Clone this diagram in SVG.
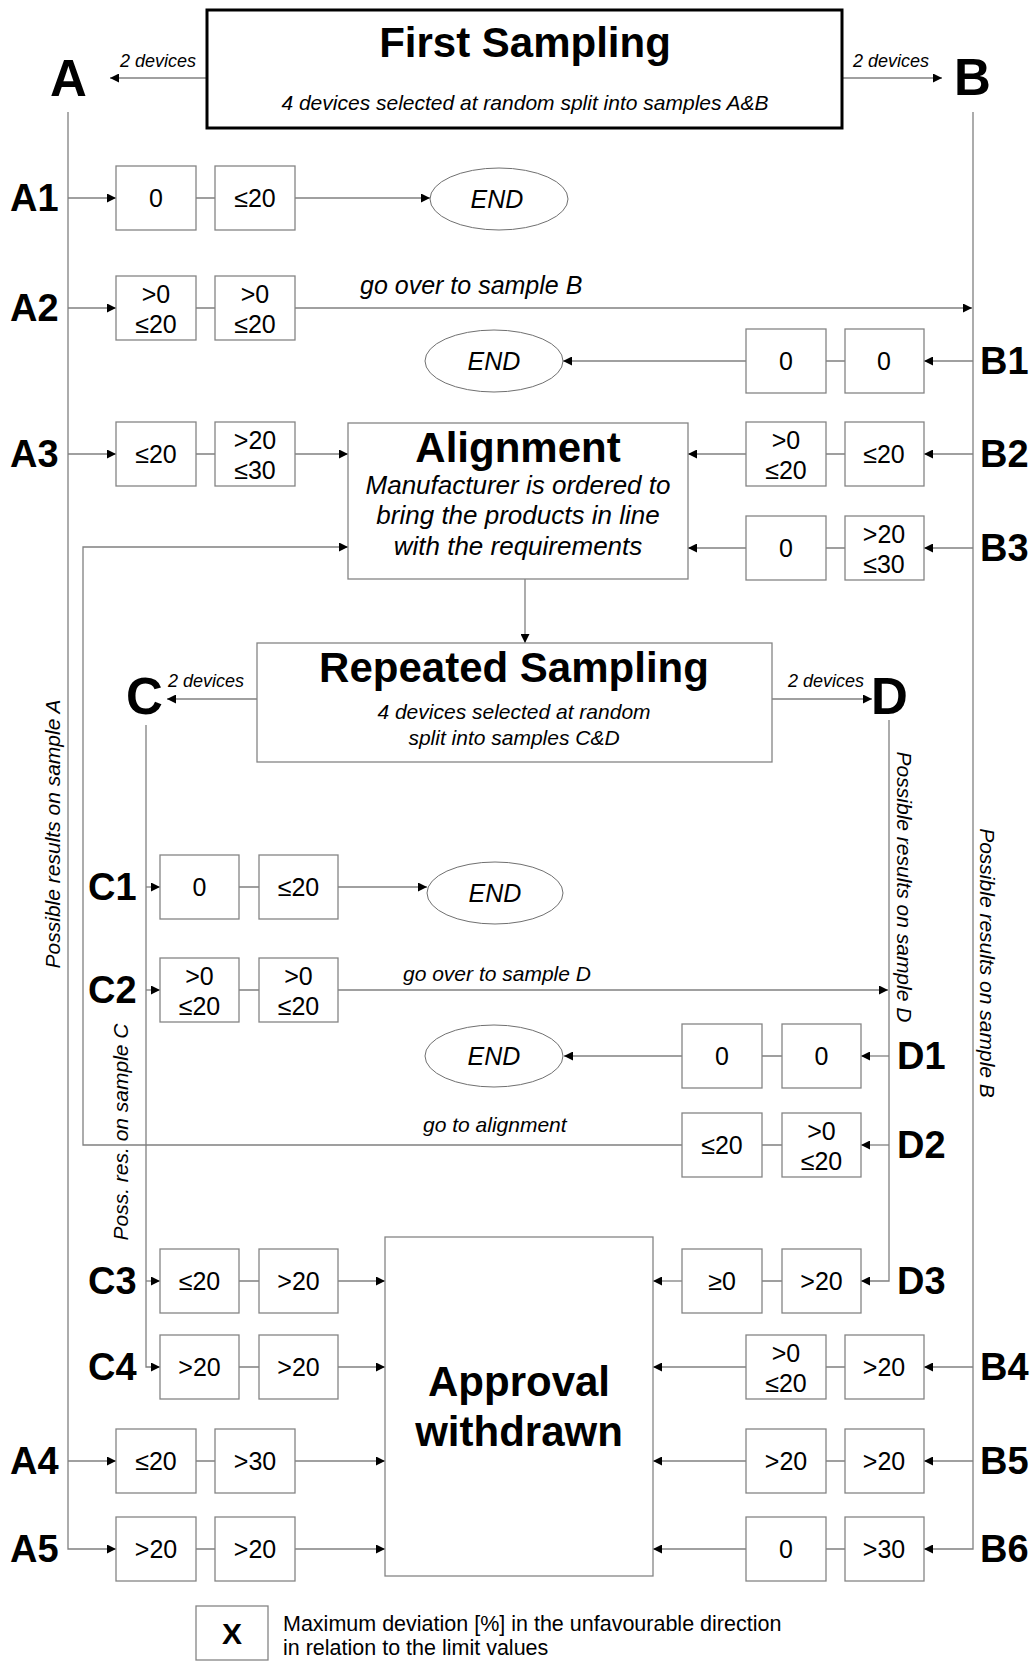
<svg xmlns="http://www.w3.org/2000/svg" width="1035" height="1662" viewBox="0 0 1035 1662">
<defs>
<marker id="arr" viewBox="0 0 10 10" refX="10" refY="5" markerWidth="11" markerHeight="9" markerUnits="userSpaceOnUse" orient="auto">
<path d="M0,0 L10,5 L0,10 z" fill="#000"/>
</marker>
<style>
text{font-family:"Liberation Sans",Arial,Helvetica,sans-serif;fill:#000}
.box{fill:#fff;stroke:#858585;stroke-width:1.3}
.big{fill:#fff;stroke:#858585;stroke-width:1.3}
.conn{fill:none;stroke:#808080;stroke-width:1.3}
.arr{marker-end:url(#arr)}
.v{font-size:25px;text-anchor:middle}
.lbl{font-size:38px;font-weight:bold}
.let{font-size:51px;font-weight:bold}
.dev{font-size:18px;font-style:italic}
.end{font-size:25px;font-style:italic;text-anchor:middle}
.ttl{font-size:42px;font-weight:bold;text-anchor:middle}
.sub{font-size:21px;font-style:italic;text-anchor:middle}
.sub26{font-size:26px;font-style:italic;text-anchor:middle}
.rot{font-size:21px;font-style:italic;text-anchor:middle}
.note{font-style:italic}
.leg{font-size:21.5px}
.ell{fill:#fff;stroke:#707070;stroke-width:1}
</style>
</defs>
<rect x="0" y="0" width="1035" height="1662" fill="#fff"/>

<g id="connectors">
<path class="conn arr" d="M207,78 H110"/>
<path class="conn arr" d="M842,78 H942"/>
<path class="conn arr" d="M68,112 V1549 H116"/>
<path class="conn arr" d="M68,198 H116"/>
<path class="conn arr" d="M68,308 H116"/>
<path class="conn arr" d="M68,454 H116"/>
<path class="conn arr" d="M68,1461 H116"/>
<path class="conn arr" d="M973,112 V1549 H924"/>
<path class="conn arr" d="M973,361 H924"/>
<path class="conn arr" d="M973,454 H924"/>
<path class="conn arr" d="M973,548 H924"/>
<path class="conn arr" d="M973,1367 H924"/>
<path class="conn arr" d="M973,1461 H924"/>
<path class="conn" d="M196,198 H215 M196,308 H215 M196,454 H215 M196,1461 H215 M196,1549 H215"/>
<path class="conn" d="M826,361 H845 M826,454 H845 M826,548 H845 M826,1367 H845 M826,1461 H845 M826,1549 H845"/>
<path class="conn" d="M239,887 H259 M239,990 H259 M239,1281 H259 M239,1367 H259"/>
<path class="conn" d="M762,1056 H782 M762,1145 H782 M762,1281 H782"/>
<path class="conn arr" d="M295,198 H430"/>
<path class="conn arr" d="M295,308 H972"/>
<path class="conn arr" d="M746,361 H563"/>
<path class="conn arr" d="M295,454 H348"/>
<path class="conn arr" d="M746,454 H688"/>
<path class="conn arr" d="M746,548 H688"/>
<path class="conn arr" d="M682,1145 H83 V547 H348"/>
<path class="conn arr" d="M525,579 V643"/>
<path class="conn arr" d="M257,699 H167"/>
<path class="conn arr" d="M772,699 H872"/>
<path class="conn arr" d="M146,725 V1367 H160"/>
<path class="conn arr" d="M146,887 H160"/>
<path class="conn arr" d="M146,990 H160"/>
<path class="conn arr" d="M146,1281 H160"/>
<path class="conn arr" d="M889,720 V1281 H861"/>
<path class="conn arr" d="M889,1056 H861"/>
<path class="conn arr" d="M889,1145 H861"/>
<path class="conn arr" d="M338,887 H427"/>
<path class="conn arr" d="M338,990 H888"/>
<path class="conn arr" d="M682,1056 H564"/>
<path class="conn arr" d="M338,1281 H385"/>
<path class="conn arr" d="M338,1367 H385"/>
<path class="conn arr" d="M295,1461 H385"/>
<path class="conn arr" d="M295,1549 H385"/>
<path class="conn arr" d="M682,1281 H653"/>
<path class="conn arr" d="M746,1367 H653"/>
<path class="conn arr" d="M746,1461 H653"/>
<path class="conn arr" d="M746,1549 H653"/>
<text class="dev" x="120" y="67">2 devices</text>
<text class="dev" x="853" y="67">2 devices</text>
<text class="dev" x="168" y="687">2 devices</text>
<text class="dev" x="788" y="687">2 devices</text>
<text class="note" x="360" y="294" font-size="25">go over to sample B</text>
<text class="note" x="403" y="981" font-size="21">go over to sample D</text>
<text class="note" x="423" y="1132" font-size="21">go to alignment</text>
</g>

<g id="first-sampling">
<rect x="207" y="10" width="635" height="118" fill="#fff" stroke="#000" stroke-width="3"/>
<text class="ttl" x="525" y="57">First Sampling</text>
<text class="sub" x="525" y="110">4 devices selected at random split into samples A&amp;B</text>
</g>

<g id="sample-labels">
<text class="let" x="50" y="96">A</text>
<text class="let" x="954" y="95">B</text>
<text class="let" x="126" y="714">C</text>
<text class="let" x="871" y="714">D</text>
<text class="rot" transform="translate(60,834) rotate(-90)">Possible results on sample A</text>
<text class="rot" transform="translate(897,887) rotate(90)">Possible results on sample D</text>
<text class="rot" transform="translate(980,963) rotate(90)">Possible results on sample B</text>
<text class="rot" transform="translate(128,1132) rotate(-90)">Poss. res. on sample C</text>
</g>

<g id="row-labels">
<text class="lbl" x="10" y="211">A1</text>
<text class="lbl" x="10" y="321">A2</text>
<text class="lbl" x="10" y="467">A3</text>
<text class="lbl" x="10" y="1474">A4</text>
<text class="lbl" x="10" y="1562">A5</text>
<text class="lbl" x="980" y="374">B1</text>
<text class="lbl" x="980" y="467">B2</text>
<text class="lbl" x="980" y="561">B3</text>
<text class="lbl" x="980" y="1380">B4</text>
<text class="lbl" x="980" y="1474">B5</text>
<text class="lbl" x="980" y="1562">B6</text>
<text class="lbl" x="88" y="900">C1</text>
<text class="lbl" x="88" y="1003">C2</text>
<text class="lbl" x="88" y="1294">C3</text>
<text class="lbl" x="88" y="1380">C4</text>
<text class="lbl" x="897" y="1069">D1</text>
<text class="lbl" x="897" y="1158">D2</text>
<text class="lbl" x="897" y="1294">D3</text>
</g>

<!-- A rows -->
<g id="a1-1"><rect class="box" x="116" y="166" width="80" height="64"/><text class="v" x="156" y="207">0</text></g>
<g id="a1-2"><rect class="box" x="215" y="166" width="80" height="64"/><text class="v" x="255" y="207">≤20</text></g>
<g id="a2-1"><rect class="box" x="116" y="276" width="80" height="64"/><text class="v" x="156" y="303">&gt;0</text><text class="v" x="156" y="333">≤20</text></g>
<g id="a2-2"><rect class="box" x="215" y="276" width="80" height="64"/><text class="v" x="255" y="303">&gt;0</text><text class="v" x="255" y="333">≤20</text></g>
<g id="a3-1"><rect class="box" x="116" y="422" width="80" height="64"/><text class="v" x="156" y="463">≤20</text></g>
<g id="a3-2"><rect class="box" x="215" y="422" width="80" height="64"/><text class="v" x="255" y="449">&gt;20</text><text class="v" x="255" y="479">≤30</text></g>
<g id="a4-1"><rect class="box" x="116" y="1429" width="80" height="64"/><text class="v" x="156" y="1470">≤20</text></g>
<g id="a4-2"><rect class="box" x="215" y="1429" width="80" height="64"/><text class="v" x="255" y="1470">&gt;30</text></g>
<g id="a5-1"><rect class="box" x="116" y="1517" width="80" height="64"/><text class="v" x="156" y="1558">&gt;20</text></g>
<g id="a5-2"><rect class="box" x="215" y="1517" width="80" height="64"/><text class="v" x="255" y="1558">&gt;20</text></g>

<!-- B rows -->
<g id="b1-1"><rect class="box" x="746" y="329" width="80" height="64"/><text class="v" x="786" y="370">0</text></g>
<g id="b1-2"><rect class="box" x="845" y="329" width="79" height="64"/><text class="v" x="884" y="370">0</text></g>
<g id="b2-1"><rect class="box" x="746" y="422" width="80" height="64"/><text class="v" x="786" y="449">&gt;0</text><text class="v" x="786" y="479">≤20</text></g>
<g id="b2-2"><rect class="box" x="845" y="422" width="79" height="64"/><text class="v" x="884" y="463">≤20</text></g>
<g id="b3-1"><rect class="box" x="746" y="516" width="80" height="64"/><text class="v" x="786" y="557">0</text></g>
<g id="b3-2"><rect class="box" x="845" y="516" width="79" height="64"/><text class="v" x="884" y="543">&gt;20</text><text class="v" x="884" y="573">≤30</text></g>
<g id="b4-1"><rect class="box" x="746" y="1335" width="80" height="64"/><text class="v" x="786" y="1362">&gt;0</text><text class="v" x="786" y="1392">≤20</text></g>
<g id="b4-2"><rect class="box" x="845" y="1335" width="79" height="64"/><text class="v" x="884" y="1376">&gt;20</text></g>
<g id="b5-1"><rect class="box" x="746" y="1429" width="80" height="64"/><text class="v" x="786" y="1470">&gt;20</text></g>
<g id="b5-2"><rect class="box" x="845" y="1429" width="79" height="64"/><text class="v" x="884" y="1470">&gt;20</text></g>
<g id="b6-1"><rect class="box" x="746" y="1517" width="80" height="64"/><text class="v" x="786" y="1558">0</text></g>
<g id="b6-2"><rect class="box" x="845" y="1517" width="79" height="64"/><text class="v" x="884" y="1558">&gt;30</text></g>

<!-- C rows -->
<g id="c1-1"><rect class="box" x="160" y="855" width="79" height="64"/><text class="v" x="199.5" y="896">0</text></g>
<g id="c1-2"><rect class="box" x="259" y="855" width="79" height="64"/><text class="v" x="298.5" y="896">≤20</text></g>
<g id="c2-1"><rect class="box" x="160" y="958" width="79" height="64"/><text class="v" x="199.5" y="985">&gt;0</text><text class="v" x="199.5" y="1015">≤20</text></g>
<g id="c2-2"><rect class="box" x="259" y="958" width="79" height="64"/><text class="v" x="298.5" y="985">&gt;0</text><text class="v" x="298.5" y="1015">≤20</text></g>
<g id="c3-1"><rect class="box" x="160" y="1249" width="79" height="64"/><text class="v" x="199.5" y="1290">≤20</text></g>
<g id="c3-2"><rect class="box" x="259" y="1249" width="79" height="64"/><text class="v" x="298.5" y="1290">&gt;20</text></g>
<g id="c4-1"><rect class="box" x="160" y="1335" width="79" height="64"/><text class="v" x="199.5" y="1376">&gt;20</text></g>
<g id="c4-2"><rect class="box" x="259" y="1335" width="79" height="64"/><text class="v" x="298.5" y="1376">&gt;20</text></g>

<!-- D rows -->
<g id="d1-1"><rect class="box" x="682" y="1024" width="80" height="64"/><text class="v" x="722" y="1065">0</text></g>
<g id="d1-2"><rect class="box" x="782" y="1024" width="79" height="64"/><text class="v" x="821.5" y="1065">0</text></g>
<g id="d2-1"><rect class="box" x="682" y="1113" width="80" height="64"/><text class="v" x="722" y="1154">≤20</text></g>
<g id="d2-2"><rect class="box" x="782" y="1113" width="79" height="64"/><text class="v" x="821.5" y="1140">&gt;0</text><text class="v" x="821.5" y="1170">≤20</text></g>
<g id="d3-1"><rect class="box" x="682" y="1249" width="80" height="64"/><text class="v" x="722" y="1290">≥0</text></g>
<g id="d3-2"><rect class="box" x="782" y="1249" width="79" height="64"/><text class="v" x="821.5" y="1290">&gt;20</text></g>

<!-- END nodes -->
<g id="end1"><ellipse class="ell" cx="499" cy="199" rx="69" ry="31"/><text class="end" x="497" y="208">END</text></g>
<g id="end2"><ellipse class="ell" cx="494" cy="361" rx="69" ry="31"/><text class="end" x="494" y="370">END</text></g>
<g id="end3"><ellipse class="ell" cx="495" cy="893" rx="68" ry="31"/><text class="end" x="495" y="902">END</text></g>
<g id="end4"><ellipse class="ell" cx="494" cy="1056" rx="69" ry="31"/><text class="end" x="494" y="1065">END</text></g>

<g id="alignment">
<rect class="big" x="348" y="423" width="340" height="156"/>
<text class="ttl" x="518" y="462">Alignment</text>
<text class="sub26" x="518" y="494">Manufacturer is ordered to</text>
<text class="sub26" x="518" y="524">bring the products in line</text>
<text class="sub26" x="518" y="555">with the requirements</text>
</g>

<g id="repeated-sampling">
<rect class="big" x="257" y="643" width="515" height="119"/>
<text class="ttl" x="514" y="682">Repeated Sampling</text>
<text class="sub" x="514" y="719">4 devices selected at random</text>
<text class="sub" x="514" y="745">split into samples C&amp;D</text>
</g>

<g id="approval-withdrawn">
<rect class="big" x="385" y="1237" width="268" height="339"/>
<text class="ttl" x="519" y="1396">Approval</text>
<text class="ttl" x="519" y="1446">withdrawn</text>
</g>

<g id="legend">
<rect class="box" x="196" y="1606" width="72" height="54"/>
<text x="232" y="1644" font-size="30" font-weight="bold" text-anchor="middle">X</text>
<text class="leg" x="283" y="1631">Maximum deviation [%] in the unfavourable direction</text>
<text class="leg" x="283" y="1655">in relation to the limit values</text>
</g>
</svg>
